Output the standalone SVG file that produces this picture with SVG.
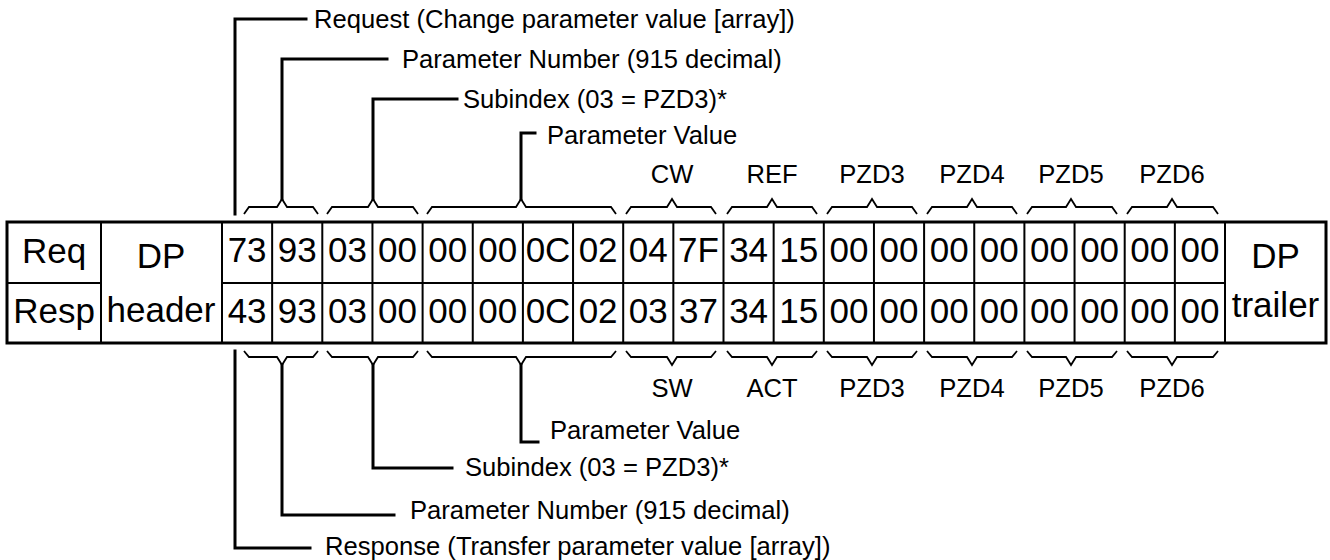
<svg xmlns="http://www.w3.org/2000/svg" width="1330" height="560" viewBox="0 0 1330 560">
<style>
.big{font-family:"Liberation Sans",Arial,sans-serif;font-size:35px;fill:#000;text-anchor:middle}
.lbl{font-family:"Liberation Sans",Arial,sans-serif;font-size:25.6px;fill:#000}
.ctr{text-anchor:middle}
.grid{stroke:#000;stroke-width:2;fill:none}
.border{stroke:#000;stroke-width:3;fill:none}
.brace{stroke:#000;stroke-width:1.8;fill:none;stroke-linejoin:miter}
.conn{stroke:#000;stroke-width:3;fill:none;stroke-linejoin:miter;stroke-linecap:square}
</style>
<rect width="1330" height="560" fill="#fff"/>
<g id="table">
<rect class="border" x="7" y="222" width="1319" height="121"/>
<path class="grid" d="M7 283H101M222 283H1225M101 222V343M222 222V343M1225 222V343M272.15 222V343M322.3 222V343M372.45 222V343M422.6 222V343M472.75 222V343M522.9 222V343M573.05 222V343M623.2 222V343M673.35 222V343M723.5 222V343M773.65 222V343M823.8 222V343M873.95 222V343M924.1 222V343M974.25 222V343M1024.4 222V343M1074.55 222V343M1124.7 222V343M1174.85 222V343"/>
<text class="big" x="54" y="263">Req</text>
<text class="big" x="54" y="323">Resp</text>
<text class="big" x="161" y="268">DP</text>
<text class="big" x="161" y="322">header</text>
<text class="big" x="1275.5" y="268">DP</text>
<text class="big" x="1275.5" y="317">trailer</text>
<g id="req-bytes">
<text class="big" x="247.1" y="262">73</text>
<text class="big" x="297.2" y="262">93</text>
<text class="big" x="347.4" y="262">03</text>
<text class="big" x="397.5" y="262">00</text>
<text class="big" x="447.7" y="262">00</text>
<text class="big" x="497.8" y="262">00</text>
<text class="big" x="548" y="262">0C</text>
<text class="big" x="598.1" y="262">02</text>
<text class="big" x="648.3" y="262">04</text>
<text class="big" x="698.4" y="262">7F</text>
<text class="big" x="748.6" y="262">34</text>
<text class="big" x="798.7" y="262">15</text>
<text class="big" x="848.9" y="262">00</text>
<text class="big" x="899" y="262">00</text>
<text class="big" x="949.2" y="262">00</text>
<text class="big" x="999.3" y="262">00</text>
<text class="big" x="1049.5" y="262">00</text>
<text class="big" x="1099.6" y="262">00</text>
<text class="big" x="1149.8" y="262">00</text>
<text class="big" x="1199.9" y="262">00</text>
</g>
<g id="resp-bytes">
<text class="big" x="247.1" y="323">43</text>
<text class="big" x="297.2" y="323">93</text>
<text class="big" x="347.4" y="323">03</text>
<text class="big" x="397.5" y="323">00</text>
<text class="big" x="447.7" y="323">00</text>
<text class="big" x="497.8" y="323">00</text>
<text class="big" x="548" y="323">0C</text>
<text class="big" x="598.1" y="323">02</text>
<text class="big" x="648.3" y="323">03</text>
<text class="big" x="698.4" y="323">37</text>
<text class="big" x="748.6" y="323">34</text>
<text class="big" x="798.7" y="323">15</text>
<text class="big" x="848.9" y="323">00</text>
<text class="big" x="899" y="323">00</text>
<text class="big" x="949.2" y="323">00</text>
<text class="big" x="999.3" y="323">00</text>
<text class="big" x="1049.5" y="323">00</text>
<text class="big" x="1099.6" y="323">00</text>
<text class="big" x="1149.8" y="323">00</text>
<text class="big" x="1199.9" y="323">00</text>
</g>
</g>
<g id="braces-top">
<path class="brace" d="M244 214L249 207H277L282 199L287 207H313L318 214"/>
<path class="brace" d="M327 214L332 207H368L373 199L378 207H413L418 214"/>
<path class="brace" d="M427 214L432 207H516L521 199L526 207H611L616 214"/>
<path class="brace" d="M626 214L631 207H667L672 199L677 207H711L716 214"/>
<path class="brace" d="M727 214L732 207H767L772 199L777 207H812L817 214"/>
<path class="brace" d="M827 214L832 207H867L872 199L877 207H912L917 214"/>
<path class="brace" d="M927 214L932 207H967L972 199L977 207H1012L1017 214"/>
<path class="brace" d="M1027 214L1032 207H1066L1071 199L1076 207H1112L1117 214"/>
<path class="brace" d="M1127 214L1132 207H1167L1172 199L1177 207H1213L1218 214"/>
</g>
<g id="braces-bottom">
<path class="brace" d="M244 351L249 357H277L282 365L287 357H313L318 351"/>
<path class="brace" d="M327 351L332 357H368L373 365L378 357H413L418 351"/>
<path class="brace" d="M427 351L432 357H516L521 365L526 357H611L616 351"/>
<path class="brace" d="M626 351L631 357H667L672 365L677 357H711L716 351"/>
<path class="brace" d="M727 351L732 357H767L772 365L777 357H812L817 351"/>
<path class="brace" d="M827 351L832 357H867L872 365L877 357H912L917 351"/>
<path class="brace" d="M927 351L932 357H967L972 365L977 357H1012L1017 351"/>
<path class="brace" d="M1027 351L1032 357H1066L1071 365L1076 357H1112L1117 351"/>
<path class="brace" d="M1127 351L1132 357H1167L1172 365L1177 357H1213L1218 351"/>
</g>
<g id="connectors">
<path class="conn" d="M235 214V19H306"/>
<path class="conn" d="M282 199V59H387"/>
<path class="conn" d="M373 199V99H457"/>
<path class="conn" d="M521 199V133H535"/>
<path class="conn" d="M235 351V548H310"/>
<path class="conn" d="M282 365V515H394"/>
<path class="conn" d="M373 365V468H452"/>
<path class="conn" d="M521 365V442H538"/>
</g>
<g id="labels-top">
<text class="lbl" x="314" y="28">Request (Change parameter value [array])</text>
<text class="lbl" x="402" y="68">Parameter Number (915 decimal)</text>
<text class="lbl" x="463" y="108">Subindex (03 = PZD3)*</text>
<text class="lbl" x="547" y="144">Parameter Value</text>
<text class="lbl ctr" x="672" y="183">CW</text>
<text class="lbl ctr" x="772" y="183">REF</text>
<text class="lbl ctr" x="872" y="183">PZD3</text>
<text class="lbl ctr" x="972" y="183">PZD4</text>
<text class="lbl ctr" x="1071" y="183">PZD5</text>
<text class="lbl ctr" x="1172" y="183">PZD6</text>
</g>
<g id="labels-bottom">
<text class="lbl ctr" x="672" y="397">SW</text>
<text class="lbl ctr" x="772" y="397">ACT</text>
<text class="lbl ctr" x="872" y="397">PZD3</text>
<text class="lbl ctr" x="972" y="397">PZD4</text>
<text class="lbl ctr" x="1071" y="397">PZD5</text>
<text class="lbl ctr" x="1172" y="397">PZD6</text>
<text class="lbl" x="550" y="439">Parameter Value</text>
<text class="lbl" x="465" y="476">Subindex (03 = PZD3)*</text>
<text class="lbl" x="410" y="519">Parameter Number (915 decimal)</text>
<text class="lbl" x="325" y="555">Response (Transfer parameter value [array])</text>
</g>
</svg>
